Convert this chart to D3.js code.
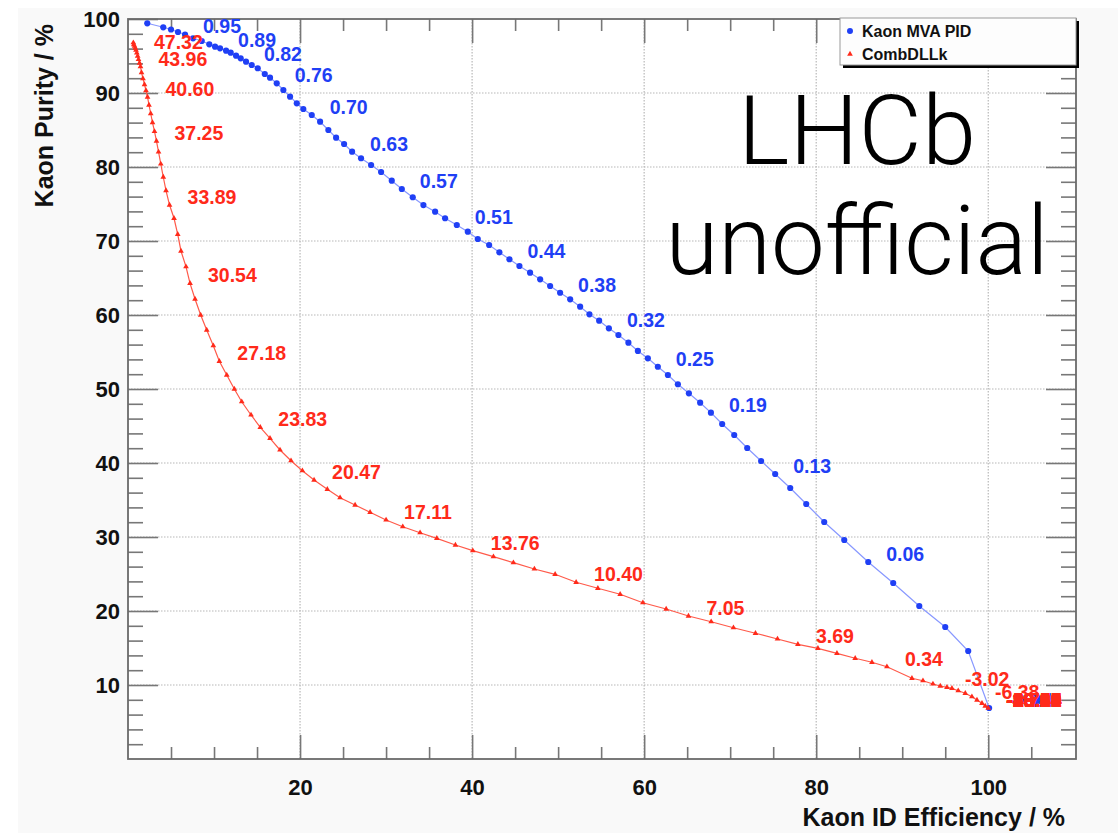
<!DOCTYPE html>
<html>
<head>
<meta charset="utf-8">
<script src="https://cdn.jsdelivr.net/npm/d3@7"></script>
<style>
  html, body { margin: 0; padding: 0; background: #fff; }
  svg { display: block; font-family: "Liberation Sans", Arial, Helvetica, sans-serif; }
</style>
</head>
<body>
<svg id="chart" width="1118" height="833"></svg>
<script>
// Kaon MVA PID: efficiency (%) and purity (%) per cut step
const mvaEff = [2.24, 4.10, 5.00, 5.81, 6.63, 7.56, 8.57, 9.45, 10.12, 10.70,
  11.40, 11.94, 12.56, 13.10, 13.72, 14.38, 15.08, 15.90, 16.51, 17.29,
  18.06, 18.84, 19.62, 20.38, 21.36, 22.33, 23.29, 24.19, 25.12, 26.05,
  27.09, 28.26, 29.42, 30.66, 31.83, 33.10, 34.34, 35.70, 36.86, 38.22,
  39.50, 40.66, 41.98, 43.17, 44.34, 45.50, 46.74, 47.91, 49.07, 50.23,
  51.40, 52.56, 53.64, 54.77, 55.90, 57.01, 58.17, 59.27, 60.43, 61.59,
  62.76, 63.92, 65.20, 66.51, 67.76, 69.07, 70.47, 71.98, 73.60, 75.23,
  76.98, 78.84, 80.93, 83.26, 86.05, 88.95, 91.98, 95.00, 97.67, 100.1];
const mvaPur = [99.42, 98.88, 98.58, 98.24, 97.91, 97.39, 97.03, 96.58, 96.26, 96.04,
  95.72, 95.45, 95.04, 94.69, 94.23, 93.78, 93.34, 92.57, 92.07, 91.31,
  90.41, 89.50, 88.61, 87.84, 87.03, 86.12, 85.00, 83.96, 83.11, 82.07,
  81.18, 80.27, 79.32, 78.15, 77.03, 75.91, 74.86, 73.96, 73.07, 72.16,
  71.26, 70.27, 69.46, 68.47, 67.53, 66.62, 65.72, 64.82, 63.92, 63.01,
  62.12, 61.12, 60.09, 59.23, 58.20, 57.30, 56.26, 55.14, 54.15, 53.01,
  51.89, 50.64, 49.42, 48.15, 46.80, 45.27, 43.78, 42.03, 40.27, 38.51,
  36.62, 34.46, 32.03, 29.59, 26.62, 23.78, 20.68, 17.84, 14.59, 6.89];
// cut value printed every 5th point (index 4, 9, 14, ...); the rest pile up at the last point
const mvaCuts = ["0.95", "0.89", "0.82", "0.76", "0.70", "0.63", "0.57", "0.51", "0.44", "0.38",
  "0.32", "0.25", "0.19", "0.13", "0.06", "-0.01", "-0.07", "-0.13", "-0.20", "-0.26"];

// CombDLLk
const dllEff = [0.62, 0.67, 0.76, 0.84, 0.93, 1.02, 1.12, 1.22, 1.34, 1.45,
  1.57, 1.74, 1.92, 2.09, 2.27, 2.44, 2.64, 2.85, 3.08, 3.31,
  3.55, 3.81, 4.10, 4.42, 4.83, 5.35, 5.78, 6.16, 6.74, 7.21,
  7.79, 8.45, 9.15, 9.92, 10.62, 11.48, 12.36, 13.22, 14.30, 15.38,
  16.51, 17.67, 18.95, 20.27, 21.63, 23.17, 24.65, 26.40, 28.14, 30.00,
  31.94, 33.95, 35.90, 38.06, 40.08, 42.48, 44.80, 47.24, 49.65, 52.09,
  54.62, 57.21, 59.85, 62.56, 65.15, 67.79, 70.38, 72.94, 75.50, 77.87,
  80.20, 82.41, 84.53, 86.48, 88.22, 91.13, 92.41, 93.57, 94.42, 95.20,
  95.78, 96.51, 97.33, 98.10, 98.69, 99.27, 99.65, 100.0];
const dllPur = [96.80, 96.55, 96.32, 96.08, 95.81, 95.41, 95.00, 94.53, 94.05, 93.58,
  92.77, 91.96, 91.15, 90.34, 89.46, 88.38, 87.23, 86.01, 84.80, 83.51,
  82.03, 80.41, 78.65, 76.82, 74.86, 73.07, 70.91, 68.65, 66.53, 64.28,
  62.16, 60.00, 57.97, 55.85, 53.74, 51.89, 50.00, 48.28, 46.49, 44.82,
  43.34, 41.76, 40.31, 38.96, 37.70, 36.45, 35.31, 34.32, 33.34, 32.30,
  31.39, 30.58, 29.82, 28.92, 28.15, 27.34, 26.53, 25.68, 24.96, 23.88,
  23.07, 22.26, 21.12, 20.27, 19.32, 18.55, 17.74, 16.99, 16.22, 15.50,
  14.96, 14.28, 13.61, 13.07, 12.47, 10.91, 10.58, 10.14, 9.86, 9.69,
  9.55, 9.23, 8.88, 8.42, 7.97, 7.53, 7.16, 6.89];
const dllCuts = ["47.32", "43.96", "40.60", "37.25", "33.89", "30.54", "27.18", "23.83", "20.47", "17.11",
  "13.76", "10.40", "7.05", "3.69", "0.34", "-3.02", "-6.38", "-9.73", "-13.09", "-16.44",
  "-19.80", "-23.15", "-26.51", "-29.87", "-33.22", "-36.58", "-39.93", "-43.29", "-46.64", "-50.00"];

const xTickValues = [20, 40, 60, 80, 100];
const yTickValues = [10, 20, 30, 40, 50, 60, 70, 80, 90, 100];

const blue = "#1f3ff5", blueLine = "#8898ff";
const red = "#ff2a1a", redLine = "#ff5a4a";

const svg = d3.select("#chart");
const W = 1118, H = 833;
const L = 128, R = 1076, T = 19, B = 759;

const x = d3.scaleLinear().domain([0, 110.2]).range([L, R]);
const y = d3.scaleLinear().domain([0, 100]).range([B, T]);

// canvas + frame
svg.append("rect").attr("width", W).attr("height", H).attr("fill", "#fff");
svg.append("rect").attr("x", 18).attr("y", 8).attr("width", W - 18).attr("height", H - 8).attr("fill", "#f9f9f9");
svg.append("rect").attr("x", L).attr("y", T).attr("width", R - L).attr("height", B - T).attr("fill", "#fff");

// dotted grid
const grid = svg.append("g").attr("stroke", "#b8b8b8").attr("stroke-width", 1.2).attr("stroke-dasharray", "1.5,1.5");
grid.selectAll("line.gx").data(xTickValues).join("line")
  .attr("x1", d => x(d)).attr("x2", d => x(d)).attr("y1", T).attr("y2", B);
grid.selectAll("line.gy").data(yTickValues.filter(v => v < 100)).join("line")
  .attr("x1", L).attr("x2", R).attr("y1", d => y(d)).attr("y2", d => y(d));

// ticks on all four sides
const xMinor = d3.range(5, 110, 5).filter(v => v % 20 !== 0);
const yMinor = d3.range(2, 100, 2).filter(v => v % 10 !== 0);

function styleAxis(g) {
  g.select(".domain").remove();
  g.selectAll(".tick line").attr("stroke", "#777").attr("stroke-width", 1.6);
  g.selectAll(".tick text").attr("fill", "#111").attr("font-weight", "bold").attr("font-size", 22)
    .attr("font-family", "'Liberation Sans', Arial, sans-serif");
}

svg.append("g").attr("transform", `translate(0,${B})`)
  .call(d3.axisBottom(x).tickValues(xMinor).tickSize(-12).tickFormat("")).call(styleAxis);
svg.append("g").attr("transform", `translate(0,${B})`)
  .call(d3.axisBottom(x).tickValues(xTickValues).tickSize(-24).tickPadding(20).tickFormat(d3.format("d"))).call(styleAxis);
svg.append("g").attr("transform", `translate(0,${T})`)
  .call(d3.axisTop(x).tickValues(xMinor).tickSize(-12).tickFormat("")).call(styleAxis);
svg.append("g").attr("transform", `translate(0,${T})`)
  .call(d3.axisTop(x).tickValues(xTickValues).tickSize(-24).tickFormat("")).call(styleAxis);

svg.append("g").attr("transform", `translate(${L},0)`)
  .call(d3.axisLeft(y).tickValues(yMinor).tickSize(-15).tickFormat("")).call(styleAxis);
svg.append("g").attr("transform", `translate(${L},0)`)
  .call(d3.axisLeft(y).tickValues(yTickValues).tickSize(-30).tickPadding(8).tickFormat(d3.format("d"))).call(styleAxis);
svg.append("g").attr("transform", `translate(${R},0)`)
  .call(d3.axisRight(y).tickValues(yMinor).tickSize(-15).tickFormat("")).call(styleAxis);
svg.append("g").attr("transform", `translate(${R},0)`)
  .call(d3.axisRight(y).tickValues(yTickValues).tickSize(-30).tickFormat("")).call(styleAxis);

svg.append("rect").attr("x", L).attr("y", T).attr("width", R - L).attr("height", B - T)
  .attr("fill", "none").attr("stroke", "#6a6a6a").attr("stroke-width", 1.8);

// axis titles
svg.append("text").attr("x", 1065).attr("y", 826).attr("text-anchor", "end")
  .attr("font-size", 25).attr("font-weight", "bold").attr("fill", "#111")
  .text("Kaon ID Efficiency / %");
svg.append("text").attr("transform", "translate(53,24) rotate(-90)").attr("text-anchor", "end")
  .attr("font-size", 25).attr("font-weight", "bold").attr("fill", "#111")
  .text("Kaon Purity / %");

// series
function drawSeries(effs, purs, cuts, color, lineColor, marker) {
  const pts = effs.map((e, i) => [e, purs[i]]);
  const g = svg.append("g");
  g.append("path").datum(pts)
    .attr("d", d3.line().x(d => x(d[0])).y(d => y(d[1])))
    .attr("fill", "none").attr("stroke", lineColor).attr("stroke-width", 1.2);
  g.selectAll("path.m").data(pts).join("path")
    .attr("class", "m")
    .attr("transform", d => `translate(${x(d[0])},${y(d[1])})`)
    .attr("d", marker)
    .attr("fill", color);
  g.selectAll("text").data(cuts).join("text")
    .attr("x", (c, k) => x(pts[Math.min(4 + 5 * k, pts.length - 1)][0]) + 18)
    .attr("y", (c, k) => y(pts[Math.min(4 + 5 * k, pts.length - 1)][1]) - 1)
    .attr("font-size", 19.5).attr("font-weight", "bold").attr("fill", color)
    .text(c => c);
}

drawSeries(mvaEff, mvaPur, mvaCuts, blue, blueLine, d3.symbol(d3.symbolCircle, 30)());
drawSeries(dllEff, dllPur, dllCuts, red, redLine, d3.symbol(d3.symbolTriangle, 14)());

// legend
svg.append("rect").attr("x", 843).attr("y", 21).attr("width", 236).attr("height", 47).attr("fill", "#000");
svg.append("rect").attr("x", 840).attr("y", 18).attr("width", 236).attr("height", 47)
  .attr("fill", "#fdfdfd").attr("stroke", "#999").attr("stroke-width", 1);
const legendItems = [
  { name: "Kaon MVA PID", color: blue, marker: d3.symbol(d3.symbolCircle, 28)() },
  { name: "CombDLLk", color: red, marker: d3.symbol(d3.symbolTriangle, 14)() }
];
const li = svg.selectAll("g.li").data(legendItems).join("g")
  .attr("transform", (d, i) => `translate(850,${31 + i * 23})`);
li.append("path").attr("d", d => d.marker).attr("fill", d => d.color);
li.append("text").attr("x", 12).attr("y", 6).attr("font-size", 16).attr("font-weight", "bold")
  .attr("fill", "#111").text(d => d.name);

// watermark
const wm = svg.append("g").attr("font-family", "Roboto, 'Open Sans', sans-serif").attr("font-weight", 300)
  .attr("font-size", 96).attr("fill", "#000").attr("text-anchor", "middle");
wm.append("text").attr("x", 857).attr("y", 164).attr("textLength", 238).attr("lengthAdjust", "spacingAndGlyphs").text("LHCb");
wm.append("text").attr("x", 857).attr("y", 274).text("unofficial");
</script>
</body>
</html>
